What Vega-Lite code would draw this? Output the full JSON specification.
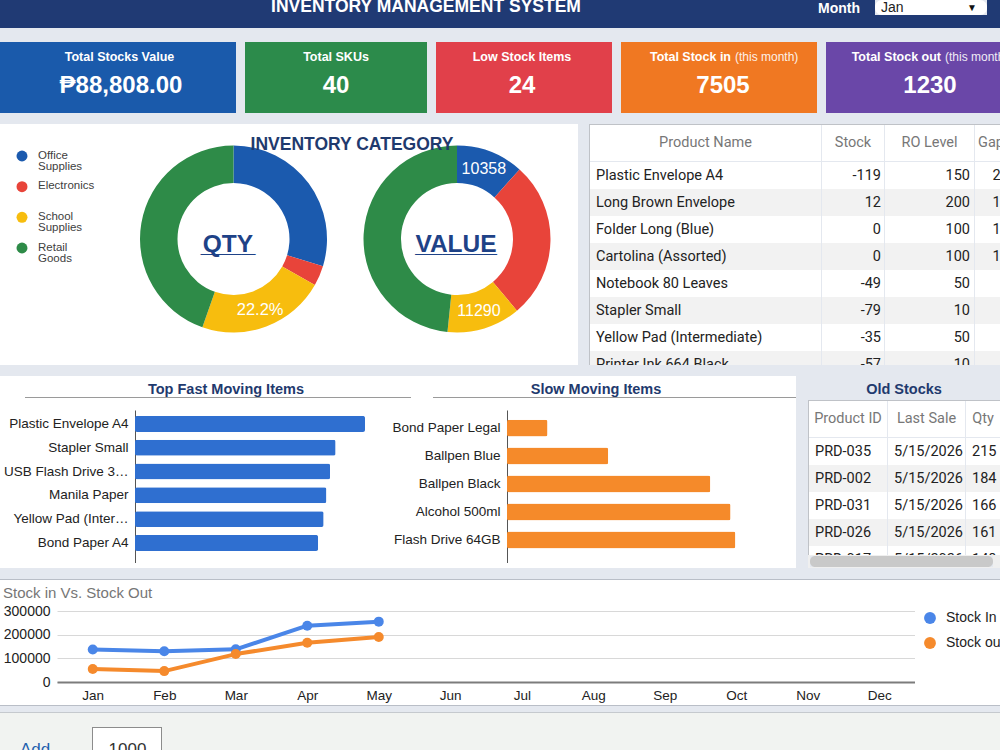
{
  "$schema": "https://vega.github.io/schema/vega-lite/v6.json",
  "padding": 0,
  "background": "#e4e8ef",
  "config": {"view": {"stroke": null}, "concat": {"spacing": 0}, "font": "Liberation Sans, Arial, sans-serif"},
  "datasets": {
    "kpis": [
      {"card": 1, "label": "Total Stocks Value", "note": "", "value": "₱88,808.00"},
      {"card": 2, "label": "Total SKUs", "note": "", "value": "40"},
      {"card": 3, "label": "Low Stock Items", "note": "", "value": "24"},
      {"card": 4, "label": "Total Stock in", "note": "(this month)", "value": "7505"},
      {"card": 5, "label": "Total Stock out", "note": "(this month)", "value": "1230"}
    ],
    "cats": [
      {"category": "Office Supplies", "qty": 594, "value": 10358},
      {"category": "Electronics", "qty": 70, "value": 24200},
      {"category": "School Supplies", "qty": 444, "value": 11290},
      {"category": "Retail Goods", "qty": 892, "value": 42960}
    ],
    "products": [
      {"i": 0, "name": "Plastic Envelope A4", "stock": -119, "ro": 150, "gap": 269},
      {"i": 1, "name": "Long Brown Envelope", "stock": 12, "ro": 200, "gap": 188},
      {"i": 2, "name": "Folder Long (Blue)", "stock": 0, "ro": 100, "gap": 100},
      {"i": 3, "name": "Cartolina (Assorted)", "stock": 0, "ro": 100, "gap": 100},
      {"i": 4, "name": "Notebook 80 Leaves", "stock": -49, "ro": 50, "gap": 99},
      {"i": 5, "name": "Stapler Small", "stock": -79, "ro": 10, "gap": 89},
      {"i": 6, "name": "Yellow Pad (Intermediate)", "stock": -35, "ro": 50, "gap": 85},
      {"i": 7, "name": "Printer Ink 664 Black", "stock": -57, "ro": 10, "gap": 67}
    ],
    "fast": [
      {"item": "Plastic Envelope A4", "qty": 250},
      {"item": "Stapler Small", "qty": 218},
      {"item": "USB Flash Drive 32GB", "qty": 212},
      {"item": "Manila Paper", "qty": 208},
      {"item": "Yellow Pad (Intermediate)", "qty": 205},
      {"item": "Bond Paper A4", "qty": 199}
    ],
    "slow": [
      {"item": "Bond Paper Legal", "qty": 42},
      {"item": "Ballpen Blue", "qty": 105},
      {"item": "Ballpen Black", "qty": 211},
      {"item": "Alcohol 500ml", "qty": 232},
      {"item": "Flash Drive 64GB", "qty": 237}
    ],
    "old": [
      {"i": 0, "id": "PRD-035", "last": "5/15/2026", "qty": 215},
      {"i": 1, "id": "PRD-002", "last": "5/15/2026", "qty": 184},
      {"i": 2, "id": "PRD-031", "last": "5/15/2026", "qty": 166},
      {"i": 3, "id": "PRD-026", "last": "5/15/2026", "qty": 161},
      {"i": 4, "id": "PRD-017", "last": "5/15/2026", "qty": 148}
    ],
    "flow": [
      {"month": "Jan", "series": "Stock In", "amount": 137000},
      {"month": "Feb", "series": "Stock In", "amount": 130000},
      {"month": "Mar", "series": "Stock In", "amount": 138000},
      {"month": "Apr", "series": "Stock In", "amount": 238000},
      {"month": "May", "series": "Stock In", "amount": 255000},
      {"month": "Jan", "series": "Stock out", "amount": 55000},
      {"month": "Feb", "series": "Stock out", "amount": 46000},
      {"month": "Mar", "series": "Stock out", "amount": 118000},
      {"month": "Apr", "series": "Stock out", "amount": 166000},
      {"month": "May", "series": "Stock out", "amount": 190000}
    ]
  },
  "bounds": "full",
  "spacing": 14,
  "vconcat": [
    {
      "bounds": "full", "spacing": 0,
      "hconcat": [
        {
          "width": 875, "height": 28, "view": {"fill": "#203a74"}, "data": {"values": [{}]},
          "layer": [
            {"mark": {"type": "text", "text": "INVENTORY MANAGEMENT SYSTEM", "fontSize": 17.5, "fontWeight": "bold", "fill": "white", "baseline": "alphabetic", "dx": -11.5, "dy": -2, "clip": true}, "encoding": {}},
            {"mark": {"type": "text", "text": "Month", "fontSize": 14, "fontWeight": "bold", "fill": "white", "align": "right", "baseline": "alphabetic", "dx": 422.5, "dy": -1.5}, "encoding": {}}
          ]
        },
        {
          "bounds": "flush", "spacing": 0,
          "vconcat": [
            {
              "width": 112, "height": 15, "view": {"fill": "white", "cornerRadius": 7}, "data": {"values": [{}]},
              "layer": [
                {"mark": {"type": "text", "text": "Jan", "fontSize": 14, "fill": "#222222", "align": "left", "baseline": "alphabetic", "dx": -50, "dy": 4.5}, "encoding": {}},
                {"mark": {"type": "text", "text": "▼", "fontSize": 10, "fill": "#111111", "dx": 41}, "encoding": {}}
              ]
            },
            {"width": 112, "height": 13, "view": {"fill": "#203a74"}, "data": {"values": [{}]}, "mark": {"type": "rect", "opacity": 0}, "encoding": {}}
          ]
        },
        {"width": 13, "height": 28, "view": {"fill": "#203a74"}, "data": {"values": [{}]}, "mark": {"type": "rect", "opacity": 0}, "encoding": {}}
      ]
    },
    {
      "bounds": "full", "spacing": 6,
      "vconcat": [
        {
          "bounds": "full", "spacing": 11,
          "vconcat": [
            {
              "bounds": "flush", "spacing": 9,
              "hconcat": [
                {
                  "width": 236, "height": 71, "view": {"fill": "#1a5aab"}, "data": {"name": "kpis"}, "transform": [{"filter": "datum.card == 1"}],
                  "layer": [
                    {"mark": {"type": "text", "fontSize": 12.5, "fontWeight": "bold", "fill": "white", "dx": 1.5, "dy": -20.5}, "encoding": {"text": {"field": "label"}}},
                    {"mark": {"type": "text", "fontSize": 24, "fontWeight": "bold", "fill": "white", "dx": 3, "dy": 8.5}, "encoding": {"text": {"field": "value"}}}
                  ]
                },
                {
                  "width": 182, "height": 71, "view": {"fill": "#2c8b4b"}, "data": {"name": "kpis"}, "transform": [{"filter": "datum.card == 2"}],
                  "layer": [
                    {"mark": {"type": "text", "fontSize": 12.5, "fontWeight": "bold", "fill": "white", "dy": -20.5}, "encoding": {"text": {"field": "label"}}},
                    {"mark": {"type": "text", "fontSize": 24, "fontWeight": "bold", "fill": "white", "dy": 8.5}, "encoding": {"text": {"field": "value"}}}
                  ]
                },
                {
                  "width": 176, "height": 71, "view": {"fill": "#e1404a"}, "data": {"name": "kpis"}, "transform": [{"filter": "datum.card == 3"}],
                  "layer": [
                    {"mark": {"type": "text", "fontSize": 12.5, "fontWeight": "bold", "fill": "white", "dx": -2, "dy": -20.5}, "encoding": {"text": {"field": "label"}}},
                    {"mark": {"type": "text", "fontSize": 24, "fontWeight": "bold", "fill": "white", "dx": -2, "dy": 8.5}, "encoding": {"text": {"field": "value"}}}
                  ]
                },
                {
                  "width": 196, "height": 71, "view": {"fill": "#f07822"}, "data": {"name": "kpis"}, "transform": [{"filter": "datum.card == 4"}],
                  "layer": [
                    {"mark": {"type": "text", "fontSize": 12.5, "fontWeight": "bold", "fill": "white", "align": "right", "dx": 12, "dy": -20.5}, "encoding": {"text": {"field": "label"}}},
                    {"mark": {"type": "text", "fontSize": 12, "fill": "white", "opacity": 0.9, "align": "left", "dx": 16, "dy": -20.5}, "encoding": {"text": {"field": "note"}}},
                    {"mark": {"type": "text", "fontSize": 24, "fontWeight": "bold", "fill": "white", "dx": 4, "dy": 8.5}, "encoding": {"text": {"field": "value"}}}
                  ]
                },
                {
                  "width": 174, "height": 71, "view": {"fill": "#6a47a8"}, "data": {"name": "kpis"}, "transform": [{"filter": "datum.card == 5"}],
                  "layer": [
                    {"mark": {"type": "text", "fontSize": 12.5, "fontWeight": "bold", "fill": "white", "align": "right", "dx": 28, "dy": -20.5}, "encoding": {"text": {"field": "label"}}},
                    {"mark": {"type": "text", "fontSize": 12, "fill": "white", "opacity": 0.9, "align": "left", "dx": 32, "dy": -20.5, "clip": true}, "encoding": {"text": {"field": "note"}}},
                    {"mark": {"type": "text", "fontSize": 24, "fontWeight": "bold", "fill": "white", "dx": 17, "dy": 8.5}, "encoding": {"text": {"field": "value"}}}
                  ]
                }
              ]
            },
            {
              "bounds": "full", "spacing": 11,
              "hconcat": [
                {
                  "bounds": "full", "spacing": 0,
                  "resolve": {"scale": {"color": "independent", "theta": "independent"}},
                  "vconcat": [
                    {
                      "bounds": "flush", "spacing": 0,
                      "resolve": {"scale": {"color": "independent", "theta": "independent"}},
                      "hconcat": [
                        {
                          "width": 131, "height": 230, "view": {"fill": "white"}, "data": {"name": "cats"},
                          "encoding": {
                            "y": {"field": "category", "type": "nominal", "scale": {"type": "point", "domain": ["Office Supplies", "Electronics", "School Supplies", "Retail Goods"], "range": [32, 124], "padding": 0}, "axis": null}
                          },
                          "layer": [
                            {"mark": {"type": "circle", "size": 120, "opacity": 1, "xOffset": -43.5},
                             "encoding": {"color": {"field": "category", "type": "nominal", "scale": {"domain": ["Office Supplies", "Electronics", "School Supplies", "Retail Goods"], "range": ["#1b5aae", "#e8443a", "#f7bd0e", "#2e8b48"]}, "legend": null}}},
                            {"mark": {"type": "text", "align": "left", "baseline": "top", "dx": -27.5, "dy": -6.5, "fontSize": 11.5, "lineHeight": 11, "lineBreak": " ", "fill": "#404040"},
                             "encoding": {"text": {"field": "category"}}}
                          ]
                        },
                        {
                          "width": 205, "height": 230, "view": {"fill": "white"}, "data": {"name": "cats"},
                          "transform": [
                            {"calculate": "indexof(['Office Supplies','Electronics','School Supplies','Retail Goods'], datum.category)", "as": "k"},
                            {"joinaggregate": [{"op": "sum", "field": "qty", "as": "total"}]},
                            {"calculate": "datum.qty / datum.total", "as": "share"}
                          ],
                          "layer": [
                            {"mark": {"type": "arc", "outerRadius": 93.5, "innerRadius": 56},
                             "encoding": {
                               "theta": {"field": "qty", "type": "quantitative", "stack": true},
                               "order": {"field": "k", "type": "quantitative"},
                               "color": {"field": "category", "type": "nominal", "scale": {"domain": ["Office Supplies", "Electronics", "School Supplies", "Retail Goods"], "range": ["#1b5aae", "#e8443a", "#f7bd0e", "#2e8b48"]}, "legend": null}
                             }},
                            {"mark": {"type": "text", "radius": 76, "fontSize": 16.5, "fill": "white"},
                             "encoding": {
                               "theta": {"field": "qty", "type": "quantitative", "stack": true},
                               "order": {"field": "k", "type": "quantitative"},
                               "text": {"condition": {"test": "datum.category == 'School Supplies'", "field": "share", "type": "quantitative", "format": ".1%"}, "value": ""}
                             }},
                            {"data": {"values": [{}]}, "mark": {"type": "text", "text": "QTY", "fontSize": 24.5, "fontWeight": "bold", "fill": "#1e4287", "baseline": "alphabetic", "dx": -5.5, "dy": 13}, "encoding": {}},
                            {"data": {"values": [{}]}, "mark": {"type": "text", "text": "____", "fontSize": 24.5, "fontWeight": "bold", "fill": "#1e4287", "baseline": "alphabetic", "dx": -5.5, "dy": 13}, "encoding": {}}
                          ]
                        },
                        {
                          "width": 242, "height": 230, "view": {"fill": "white"}, "data": {"name": "cats"},
                          "transform": [
                            {"calculate": "indexof(['Office Supplies','Electronics','School Supplies','Retail Goods'], datum.category)", "as": "k"}
                          ],
                          "layer": [
                            {"mark": {"type": "arc", "outerRadius": 93.5, "innerRadius": 56},
                             "encoding": {
                               "theta": {"field": "value", "type": "quantitative", "stack": true},
                               "order": {"field": "k", "type": "quantitative"},
                               "color": {"field": "category", "type": "nominal", "scale": {"domain": ["Office Supplies", "Electronics", "School Supplies", "Retail Goods"], "range": ["#1b5aae", "#e8443a", "#f7bd0e", "#2e8b48"]}, "legend": null}
                             }},
                            {"mark": {"type": "text", "radius": 75, "fontSize": 16, "fill": "white"},
                             "encoding": {
                               "theta": {"field": "value", "type": "quantitative", "stack": true},
                               "order": {"field": "k", "type": "quantitative"},
                               "text": {"condition": {"test": "datum.category == 'Office Supplies' || datum.category == 'School Supplies'", "field": "value", "type": "quantitative", "format": "d"}, "value": ""}
                             }},
                            {"data": {"values": [{}]}, "mark": {"type": "text", "text": "VALUE", "fontSize": 24.5, "fontWeight": "bold", "fill": "#1e4287", "baseline": "alphabetic", "dx": -1, "dy": 13}, "encoding": {}},
                            {"data": {"values": [{}]}, "mark": {"type": "text", "text": "______", "fontSize": 24.5, "fontWeight": "bold", "fill": "#1e4287", "baseline": "alphabetic", "dx": -1, "dy": 13}, "encoding": {}},
                            {"data": {"values": [{}]}, "mark": {"type": "text", "text": "INVENTORY CATEGORY", "fontSize": 17.5, "fontWeight": "bold", "fill": "#1f3a6e", "dx": -105, "dy": -94}, "encoding": {}}
                          ]
                        }
                      ]
                    },
                    {"width": 578, "height": 11, "view": {"fill": "white"}, "data": {"values": [{}]}, "mark": {"type": "rect", "opacity": 0}, "encoding": {}}
                  ]
                },
                {
                  "bounds": "full", "spacing": 0,
                  "hconcat": [
                    {"width": 1, "height": 241, "view": {"fill": "#bfc2c7"}, "data": {"values": [{}]}, "mark": {"type": "rect", "opacity": 0}, "encoding": {}},
                    {
                      "bounds": "full", "spacing": 0,
                      "vconcat": [
                        {"width": 410, "height": 1, "view": {"fill": "#bfc2c7"}, "data": {"values": [{}]}, "mark": {"type": "rect", "opacity": 0}, "encoding": {}},
                        {
                          "bounds": "full", "spacing": 1,
                          "hconcat": [
                            {
                              "bounds": "flush", "spacing": 1,
                              "vconcat": [
                                {"width": 231, "height": 36, "view": {"fill": "white"}, "data": {"values": [{"h": "Product Name"}]}, "mark": {"type": "text", "font": "Roboto, sans-serif", "fontSize": 14.5, "fill": "#777777"}, "encoding": {"text": {"field": "h"}}},
                                {
                                  "width": 231, "height": 203, "view": {"fill": "white"}, "data": {"name": "products"},
                                  "transform": [{"calculate": "datum.i + 1", "as": "i1"}, {"calculate": "datum.i + 0.5", "as": "im"}],
                                  "layer": [
                                    {"transform": [{"filter": "datum.i % 2 == 1"}], "mark": {"type": "rect", "fill": "#f2f2f2", "clip": true},
                                     "encoding": {"y": {"field": "i", "type": "quantitative", "scale": {"domain": [0, 7.5185], "reverse": true, "nice": false}, "axis": null}, "y2": {"field": "i1"}}},
                                    {"mark": {"type": "text", "font": "Roboto, sans-serif", "fontSize": 14.5, "fill": "#222222", "align": "left", "dx": -109.5, "clip": true},
                                     "encoding": {"y": {"field": "im", "type": "quantitative", "scale": {"domain": [0, 7.5185], "reverse": true, "nice": false}, "axis": null}, "text": {"field": "name"}}}
                                  ]
                                }
                              ]
                            },
                            {
                              "bounds": "flush", "spacing": 1,
                              "vconcat": [
                                {"width": 62, "height": 36, "view": {"fill": "white"}, "data": {"values": [{"h": "Stock"}]}, "mark": {"type": "text", "font": "Roboto, sans-serif", "fontSize": 14.5, "fill": "#777777"}, "encoding": {"text": {"field": "h"}}},
                                {
                                  "width": 62, "height": 203, "view": {"fill": "white"}, "data": {"name": "products"},
                                  "transform": [{"calculate": "datum.i + 1", "as": "i1"}, {"calculate": "datum.i + 0.5", "as": "im"}],
                                  "layer": [
                                    {"transform": [{"filter": "datum.i % 2 == 1"}], "mark": {"type": "rect", "fill": "#f2f2f2", "clip": true},
                                     "encoding": {"y": {"field": "i", "type": "quantitative", "scale": {"domain": [0, 7.5185], "reverse": true, "nice": false}, "axis": null}, "y2": {"field": "i1"}}},
                                    {"mark": {"type": "text", "font": "Roboto, sans-serif", "fontSize": 14.5, "fill": "#222222", "align": "right", "dx": 28, "clip": true},
                                     "encoding": {"y": {"field": "im", "type": "quantitative", "scale": {"domain": [0, 7.5185], "reverse": true, "nice": false}, "axis": null}, "text": {"field": "stock", "type": "nominal"}}}
                                  ]
                                }
                              ]
                            },
                            {
                              "bounds": "flush", "spacing": 1,
                              "vconcat": [
                                {"width": 89, "height": 36, "view": {"fill": "white"}, "data": {"values": [{"h": "RO Level"}]}, "mark": {"type": "text", "font": "Roboto, sans-serif", "fontSize": 14.5, "fill": "#777777"}, "encoding": {"text": {"field": "h"}}},
                                {
                                  "width": 89, "height": 203, "view": {"fill": "white"}, "data": {"name": "products"},
                                  "transform": [{"calculate": "datum.i + 1", "as": "i1"}, {"calculate": "datum.i + 0.5", "as": "im"}],
                                  "layer": [
                                    {"transform": [{"filter": "datum.i % 2 == 1"}], "mark": {"type": "rect", "fill": "#f2f2f2", "clip": true},
                                     "encoding": {"y": {"field": "i", "type": "quantitative", "scale": {"domain": [0, 7.5185], "reverse": true, "nice": false}, "axis": null}, "y2": {"field": "i1"}}},
                                    {"mark": {"type": "text", "font": "Roboto, sans-serif", "fontSize": 14.5, "fill": "#222222", "align": "right", "dx": 40.5, "clip": true},
                                     "encoding": {"y": {"field": "im", "type": "quantitative", "scale": {"domain": [0, 7.5185], "reverse": true, "nice": false}, "axis": null}, "text": {"field": "ro", "type": "nominal"}}}
                                  ]
                                }
                              ]
                            },
                            {
                              "bounds": "flush", "spacing": 1,
                              "vconcat": [
                                {"width": 25, "height": 36, "view": {"fill": "white"}, "data": {"values": [{"h": "Gap"}]}, "mark": {"type": "text", "font": "Roboto, sans-serif", "fontSize": 14.5, "fill": "#777777", "align": "left", "dx": -9.5, "clip": true}, "encoding": {"text": {"field": "h"}}},
                                {
                                  "width": 25, "height": 203, "view": {"fill": "white"}, "data": {"name": "products"},
                                  "transform": [{"calculate": "datum.i + 1", "as": "i1"}, {"calculate": "datum.i + 0.5", "as": "im"}],
                                  "layer": [
                                    {"transform": [{"filter": "datum.i % 2 == 1"}], "mark": {"type": "rect", "fill": "#f2f2f2", "clip": true},
                                     "encoding": {"y": {"field": "i", "type": "quantitative", "scale": {"domain": [0, 7.5185], "reverse": true, "nice": false}, "axis": null}, "y2": {"field": "i1"}}},
                                    {"mark": {"type": "text", "font": "Roboto, sans-serif", "fontSize": 14.5, "fill": "#222222", "align": "right", "dx": 29.5, "clip": true},
                                     "encoding": {"y": {"field": "im", "type": "quantitative", "scale": {"domain": [0, 7.5185], "reverse": true, "nice": false}, "axis": null}, "text": {"field": "gap", "type": "nominal"}}}
                                  ]
                                }
                              ]
                            }
                          ]
                        }
                      ]
                    }
                  ]
                }
              ]
            },
            {
              "bounds": "full", "spacing": 12,
              "hconcat": [
                {
                  "bounds": "full", "spacing": 0,
                  "vconcat": [
                    {
                      "bounds": "flush", "spacing": 0,
                      "hconcat": [
                        {"width": 411, "height": 21, "view": {"fill": "white"}, "data": {"values": [{}]}, "mark": {"type": "text", "text": "Top Fast Moving Items", "fontSize": 14.5, "fontWeight": "bold", "fill": "#1f3a6e", "dx": 20.5, "dy": 3.5}, "encoding": {}},
                        {"width": 385, "height": 21, "view": {"fill": "white"}, "data": {"values": [{}]}, "mark": {"type": "text", "text": "Slow Moving Items", "fontSize": 14.5, "fontWeight": "bold", "fill": "#1f3a6e", "dx": -7.5, "dy": 3.5}, "encoding": {}}
                      ]
                    },
                    {
                      "bounds": "flush", "spacing": 0,
                      "hconcat": [
                        {"width": 25, "height": 1, "view": {"fill": "white"}, "data": {"values": [{}]}, "mark": {"type": "rect", "opacity": 0}, "encoding": {}},
                        {"width": 386, "height": 1, "view": {"fill": "#9a9a9a"}, "data": {"values": [{}]}, "mark": {"type": "rect", "opacity": 0}, "encoding": {}},
                        {"width": 22, "height": 1, "view": {"fill": "white"}, "data": {"values": [{}]}, "mark": {"type": "rect", "opacity": 0}, "encoding": {}},
                        {"width": 363, "height": 1, "view": {"fill": "#9a9a9a"}, "data": {"values": [{}]}, "mark": {"type": "rect", "opacity": 0}, "encoding": {}}
                      ]
                    },
                    {"width": 796, "height": 12, "view": {"fill": "white"}, "data": {"values": [{}]}, "mark": {"type": "rect", "opacity": 0}, "encoding": {}},
                    {
                      "bounds": "flush", "spacing": 0,
                      "hconcat": [
                        {"width": 135, "height": 153, "view": {"fill": "white"}, "data": {"values": [{}]}, "mark": {"type": "rect", "opacity": 0}, "encoding": {}},
                        {
                          "width": 276, "height": 153, "view": {"fill": "white"}, "data": {"name": "fast"},
                          "mark": {"type": "bar", "color": "#2f6fd0", "cornerRadius": 2},
                          "encoding": {
                            "y": {"field": "item", "type": "nominal", "sort": null, "scale": {"paddingInner": 0.33, "paddingOuter": 0.379, "align": 0.33},
                                  "axis": {"title": null, "domain": true, "domainColor": "#555555", "domainWidth": 1, "ticks": false, "labelPadding": 7, "labelFontSize": 13.5, "labelColor": "#222222", "labelLimit": 126}},
                            "x": {"field": "qty", "type": "quantitative", "scale": {"domain": [0, 300]}, "axis": null}
                          }
                        },
                        {"width": 96, "height": 153, "view": {"fill": "white"}, "data": {"values": [{}]}, "mark": {"type": "rect", "opacity": 0}, "encoding": {}},
                        {
                          "width": 289, "height": 153, "view": {"fill": "white"}, "data": {"name": "slow"},
                          "mark": {"type": "bar", "color": "#f58a2a", "cornerRadius": 2},
                          "encoding": {
                            "y": {"field": "item", "type": "nominal", "sort": null, "scale": {"paddingInner": 0.393, "paddingOuter": 0.43, "align": 0.4},
                                  "axis": {"title": null, "domain": true, "domainColor": "#555555", "domainWidth": 1, "ticks": false, "labelPadding": 7, "labelFontSize": 13.5, "labelColor": "#222222", "labelLimit": 126}},
                            "x": {"field": "qty", "type": "quantitative", "scale": {"domain": [0, 300]}, "axis": null}
                          }
                        }
                      ]
                    },
                    {"width": 796, "height": 5, "view": {"fill": "white"}, "data": {"values": [{}]}, "mark": {"type": "rect", "opacity": 0}, "encoding": {}}
                  ]
                },
                {
                  "bounds": "full", "spacing": 0,
                  "vconcat": [
                    {"width": 192, "height": 24, "data": {"values": [{}]}, "mark": {"type": "text", "text": "Old Stocks", "fontSize": 14.5, "fontWeight": "bold", "fill": "#1f3a6e", "dy": 2}, "encoding": {}},
                    {
                      "bounds": "full", "spacing": 0,
                      "vconcat": [
                        {
                          "bounds": "full", "spacing": 0,
                          "hconcat": [
                            {"width": 1, "height": 155, "view": {"fill": "#bfc2c7"}, "data": {"values": [{}]}, "mark": {"type": "rect", "opacity": 0}, "encoding": {}},
                            {
                              "bounds": "full", "spacing": 0,
                              "vconcat": [
                                {"width": 191, "height": 1, "view": {"fill": "#bfc2c7"}, "data": {"values": [{}]}, "mark": {"type": "rect", "opacity": 0}, "encoding": {}},
                                {
                                  "bounds": "full", "spacing": 1,
                                  "hconcat": [
                                    {
                                      "bounds": "flush", "spacing": 1,
                                      "vconcat": [
                                        {"width": 78, "height": 36, "view": {"fill": "white"}, "data": {"values": [{"h": "Product ID"}]}, "mark": {"type": "text", "font": "Roboto, sans-serif", "fontSize": 14.5, "fill": "#777777"}, "encoding": {"text": {"field": "h"}}},
                                        {
                                          "width": 78, "height": 117, "view": {"fill": "white"}, "data": {"name": "old"},
                                          "transform": [{"calculate": "datum.i + 1", "as": "i1"}, {"calculate": "datum.i + 0.5", "as": "im"}],
                                          "layer": [
                                            {"transform": [{"filter": "datum.i % 2 == 1"}], "mark": {"type": "rect", "fill": "#f2f2f2", "clip": true},
                                             "encoding": {"y": {"field": "i", "type": "quantitative", "scale": {"domain": [0, 4.333], "reverse": true, "nice": false}, "axis": null}, "y2": {"field": "i1"}}},
                                            {"mark": {"type": "text", "font": "Roboto, sans-serif", "fontSize": 14.5, "fill": "#222222", "align": "left", "dx": -33, "clip": true},
                                             "encoding": {"y": {"field": "im", "type": "quantitative", "scale": {"domain": [0, 4.333], "reverse": true, "nice": false}, "axis": null}, "text": {"field": "id"}}}
                                          ]
                                        }
                                      ]
                                    },
                                    {
                                      "bounds": "flush", "spacing": 1,
                                      "vconcat": [
                                        {"width": 77, "height": 36, "view": {"fill": "white"}, "data": {"values": [{"h": "Last Sale"}]}, "mark": {"type": "text", "font": "Roboto, sans-serif", "fontSize": 14.5, "fill": "#777777"}, "encoding": {"text": {"field": "h"}}},
                                        {
                                          "width": 77, "height": 117, "view": {"fill": "white"}, "data": {"name": "old"},
                                          "transform": [{"calculate": "datum.i + 1", "as": "i1"}, {"calculate": "datum.i + 0.5", "as": "im"}],
                                          "layer": [
                                            {"transform": [{"filter": "datum.i % 2 == 1"}], "mark": {"type": "rect", "fill": "#f2f2f2", "clip": true},
                                             "encoding": {"y": {"field": "i", "type": "quantitative", "scale": {"domain": [0, 4.333], "reverse": true, "nice": false}, "axis": null}, "y2": {"field": "i1"}}},
                                            {"mark": {"type": "text", "font": "Roboto, sans-serif", "fontSize": 14.5, "fill": "#222222", "align": "left", "dx": -32.5, "clip": true},
                                             "encoding": {"y": {"field": "im", "type": "quantitative", "scale": {"domain": [0, 4.333], "reverse": true, "nice": false}, "axis": null}, "text": {"field": "last"}}}
                                          ]
                                        }
                                      ]
                                    },
                                    {
                                      "bounds": "flush", "spacing": 1,
                                      "vconcat": [
                                        {"width": 34, "height": 36, "view": {"fill": "white"}, "data": {"values": [{"h": "Qty"}]}, "mark": {"type": "text", "font": "Roboto, sans-serif", "fontSize": 14.5, "fill": "#777777", "clip": true}, "encoding": {"text": {"field": "h"}}},
                                        {
                                          "width": 34, "height": 117, "view": {"fill": "white"}, "data": {"name": "old"},
                                          "transform": [{"calculate": "datum.i + 1", "as": "i1"}, {"calculate": "datum.i + 0.5", "as": "im"}],
                                          "layer": [
                                            {"transform": [{"filter": "datum.i % 2 == 1"}], "mark": {"type": "rect", "fill": "#f2f2f2", "clip": true},
                                             "encoding": {"y": {"field": "i", "type": "quantitative", "scale": {"domain": [0, 4.333], "reverse": true, "nice": false}, "axis": null}, "y2": {"field": "i1"}}},
                                            {"mark": {"type": "text", "font": "Roboto, sans-serif", "fontSize": 14.5, "fill": "#222222", "align": "left", "dx": -11, "clip": true},
                                             "encoding": {"y": {"field": "im", "type": "quantitative", "scale": {"domain": [0, 4.333], "reverse": true, "nice": false}, "axis": null}, "text": {"field": "qty", "type": "nominal"}}}
                                          ]
                                        }
                                      ]
                                    }
                                  ]
                                }
                              ]
                            }
                          ]
                        },
                        {
                          "bounds": "full", "spacing": 0,
                          "vconcat": [
                            {"width": 192, "height": 1, "view": {"fill": "#efefef"}, "data": {"values": [{}]}, "mark": {"type": "rect", "opacity": 0}, "encoding": {}},
                            {
                              "bounds": "flush", "spacing": 0,
                              "hconcat": [
                                {"width": 2, "height": 11, "view": {"fill": "#efefef"}, "data": {"values": [{}]}, "mark": {"type": "rect", "opacity": 0}, "encoding": {}},
                                {"width": 183, "height": 11, "view": {"fill": "#c9c9c9", "cornerRadius": 5}, "data": {"values": [{}]}, "mark": {"type": "rect", "opacity": 0}, "encoding": {}},
                                {"width": 7, "height": 11, "view": {"fill": "#efefef"}, "data": {"values": [{}]}, "mark": {"type": "rect", "opacity": 0}, "encoding": {}}
                              ]
                            },
                            {"width": 192, "height": 1, "view": {"fill": "#efefef"}, "data": {"values": [{}]}, "mark": {"type": "rect", "opacity": 0}, "encoding": {}}
                          ]
                        }
                      ]
                    }
                  ]
                }
              ]
            },
            {
              "bounds": "full", "spacing": 0,
              "vconcat": [
                {"width": 1000, "height": 1, "view": {"fill": "#b9bec7"}, "data": {"values": [{}]}, "mark": {"type": "rect", "opacity": 0}, "encoding": {}},
                {
                  "bounds": "flush", "spacing": 0,
                  "hconcat": [
                    {"width": 57, "height": 125, "view": {"fill": "white"}, "data": {"values": [{}]}, "mark": {"type": "rect", "opacity": 0}, "encoding": {}},
                    {
                      "width": 858, "height": 125, "view": {"fill": "white"},
                      "layer": [
                        {
                          "data": {"name": "flow"},
                          "mark": {"type": "line", "strokeWidth": 4, "strokeCap": "round", "strokeJoin": "round"},
                          "encoding": {
                            "x": {"field": "month", "type": "ordinal", "scale": {"type": "point", "domain": ["Jan", "Feb", "Mar", "Apr", "May", "Jun", "Jul", "Aug", "Sep", "Oct", "Nov", "Dec"], "padding": 0.5},
                                  "axis": {"title": null, "labelAngle": 0, "offset": -23, "domain": true, "domainColor": "#7c7c7c", "domainWidth": 2, "ticks": false, "labelPadding": 6, "labelFontSize": 13.5, "labelColor": "#222222"}},
                            "y": {"field": "amount", "type": "quantitative", "scale": {"domain": [0, 300000], "range": [102, 31], "nice": false},
                                  "axis": {"title": null, "values": [0, 100000, 200000, 300000], "format": "d", "domain": false, "ticks": false, "grid": true, "gridColor": "#d8d8d8", "labelPadding": 7, "labelFontSize": 14, "labelColor": "#222222"}},
                            "color": {"field": "series", "type": "nominal", "scale": {"domain": ["Stock In", "Stock out"], "range": ["#4a86e8", "#f58a2c"]}, "legend": null}
                          }
                        },
                        {
                          "data": {"name": "flow"},
                          "mark": {"type": "circle", "size": 100, "opacity": 1},
                          "encoding": {
                            "x": {"field": "month", "type": "ordinal"},
                            "y": {"field": "amount", "type": "quantitative"},
                            "color": {"field": "series", "type": "nominal", "legend": null}
                          }
                        },
                        {"data": {"values": [{}]}, "mark": {"type": "text", "text": "Stock in Vs. Stock Out", "fontSize": 15, "fill": "#767676", "align": "left", "dx": -483, "dy": -49.5}, "encoding": {}}
                      ]
                    },
                    {
                      "width": 85, "height": 125, "view": {"fill": "white"},
                      "data": {"values": [{"series": "Stock In"}, {"series": "Stock out"}]},
                      "encoding": {"y": {"field": "series", "type": "nominal", "scale": {"type": "point", "domain": ["Stock In", "Stock out"], "range": [38, 63], "padding": 0}, "axis": null}},
                      "layer": [
                        {"mark": {"type": "circle", "size": 140, "opacity": 1, "xOffset": -27.5},
                         "encoding": {"color": {"field": "series", "type": "nominal", "scale": {"domain": ["Stock In", "Stock out"], "range": ["#4a86e8", "#f58a2c"]}, "legend": null}}},
                        {"mark": {"type": "text", "align": "left", "fontSize": 14, "fill": "#222222", "dx": -11.5, "clip": true}, "encoding": {"text": {"field": "series"}}}
                      ]
                    }
                  ]
                },
                {"width": 1000, "height": 1, "view": {"fill": "#b9bec7"}, "data": {"values": [{}]}, "mark": {"type": "rect", "opacity": 0}, "encoding": {}}
              ]
            }
          ]
        },
        {
          "bounds": "full", "spacing": 0,
          "vconcat": [
            {"width": 1000, "height": 1, "view": {"fill": "#c5c9ce"}, "data": {"values": [{}]}, "mark": {"type": "rect", "opacity": 0}, "encoding": {}},
            {
              "bounds": "full", "spacing": 0,
              "hconcat": [
                {"width": 92, "height": 37, "view": {"fill": "#f1f3f1"}, "data": {"values": [{}]}, "mark": {"type": "text", "text": "Add", "fontSize": 17, "fill": "#1f5fae", "align": "left", "baseline": "alphabetic", "dx": -26, "dy": 23, "clip": true}, "encoding": {}},
                {
                  "bounds": "full", "spacing": 0,
                  "vconcat": [
                    {"width": 70, "height": 14, "view": {"fill": "#f1f3f1"}, "data": {"values": [{}]}, "mark": {"type": "rect", "opacity": 0}, "encoding": {}},
                    {
                      "bounds": "full", "spacing": 0,
                      "hconcat": [
                        {"width": 1, "height": 23, "view": {"fill": "#8c8c8c"}, "data": {"values": [{}]}, "mark": {"type": "rect", "opacity": 0}, "encoding": {}},
                        {
                          "bounds": "flush", "spacing": 0,
                          "vconcat": [
                            {"width": 68, "height": 1, "view": {"fill": "#8c8c8c"}, "data": {"values": [{}]}, "mark": {"type": "rect", "opacity": 0}, "encoding": {}},
                            {"width": 68, "height": 22, "view": {"fill": "white"}, "data": {"values": [{}]}, "mark": {"type": "text", "text": "1000", "fontSize": 17, "fill": "#333333", "baseline": "alphabetic", "dx": 0.5, "dy": 16, "clip": true}, "encoding": {}}
                          ]
                        },
                        {"width": 1, "height": 23, "view": {"fill": "#8c8c8c"}, "data": {"values": [{}]}, "mark": {"type": "rect", "opacity": 0}, "encoding": {}}
                      ]
                    }
                  ]
                },
                {"width": 838, "height": 37, "view": {"fill": "#f1f3f1"}, "data": {"values": [{}]}, "mark": {"type": "rect", "opacity": 0}, "encoding": {}}
              ]
            }
          ]
        }
      ]
    }
  ]
}
